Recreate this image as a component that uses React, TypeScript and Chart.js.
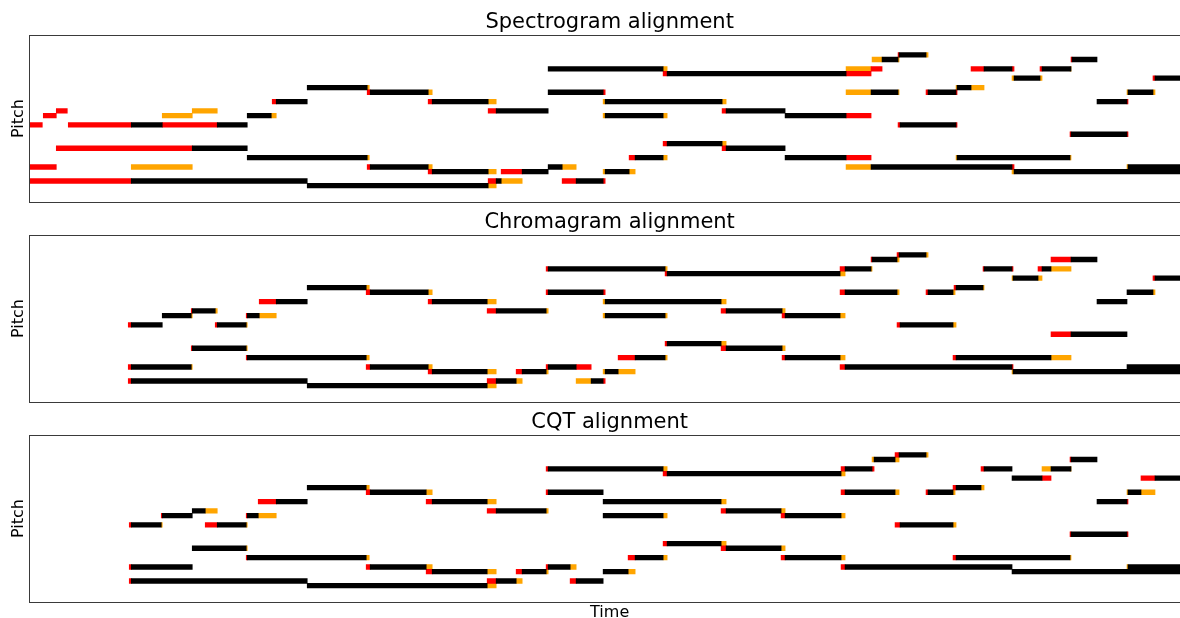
import React, { useEffect, useRef } from 'react';
import { Chart, registerables } from 'chart.js';

Chart.register(...registerables);

// Each note segment: [start time, end time, pitch row]
type Seg = [number, number, number];

const PANEL_TITLES = ['Spectrogram alignment', 'Chromagram alignment', 'CQT alignment'];
const Y_LABEL = 'Pitch';
const X_LABEL = 'Time';
const TIME_MIN = 0;
const TIME_MAX = 116.1;
const PITCH_MIN = -3.35;
const PITCH_MAX = 32.1;

// ---------- Spectrogram alignment ----------
const specBlack: Seg[] = [
  [27.8, 33.8, 21], [24.7, 27.8, 18], [21.8, 24.2, 15], [10.2, 13.3, 13], [18.8, 21.8, 13],
  [16.3, 21.8, 8], [21.8, 33.8, 6], [10.2, 27.8, 1], [27.8, 45.9, 0],
  [34.1, 39.9, 20], [51.9, 57.4, 20], [84.2, 86.9, 20], [89.9, 92.7, 20], [109.9, 112.4, 20],
  [40.3, 45.9, 18], [57.6, 69.3, 18], [106.8, 109.8, 18],
  [46.7, 51.9, 16], [69.7, 75.6, 16],
  [34.1, 39.9, 4], [51.9, 53.3, 4], [84.2, 98.3, 4], [109.9, 116.1, 4],
  [40.3, 45.9, 3], [49.3, 51.9, 3], [57.6, 60.0, 3], [98.5, 116.1, 3],
  [46.7, 47.2, 1], [54.7, 57.4, 1],
  [51.9, 63.4, 25], [95.5, 98.3, 25], [101.3, 104.2, 25],
  [57.6, 63.4, 15], [75.6, 81.7, 15],
  [63.8, 81.7, 24], [63.8, 69.3, 9], [69.7, 75.6, 8],
  [60.6, 63.4, 6], [75.6, 81.7, 6], [92.8, 104.1, 6],
  [85.3, 86.9, 27], [104.3, 106.8, 27], [87.0, 89.7, 28],
  [98.5, 101.1, 23], [112.6, 116.1, 23], [92.8, 94.2, 21], [87.1, 92.7, 13], [104.2, 109.8, 11],
];
const specRed: Seg[] = [
  [24.3, 24.7, 18], [2.7, 3.8, 16], [1.4, 2.7, 15], [0, 1.3, 13], [3.9, 10.2, 13], [13.3, 18.8, 13],
  [2.7, 16.3, 8], [0, 2.7, 4], [0, 10.2, 1],
  [33.8, 34.1, 20], [57.4, 57.6, 20], [89.7, 89.9, 20], [92.7, 92.8, 20],
  [39.9, 40.3, 18], [109.8, 109.9, 18], [45.9, 46.7, 16], [69.3, 69.7, 16],
  [33.8, 34.1, 4], [98.3, 98.5, 4], [39.9, 40.3, 3], [47.2, 49.3, 3],
  [45.9, 46.7, 1], [53.3, 54.7, 1], [57.4, 57.6, 1],
  [63.4, 63.8, 24], [81.7, 84.2, 24],
  [84.2, 85.3, 25], [94.2, 95.5, 25], [98.3, 98.5, 25], [101.1, 101.3, 25],
  [81.7, 84.2, 15], [63.4, 63.8, 9], [69.3, 69.7, 8], [60.0, 60.6, 6], [81.7, 84.2, 6],
  [86.9, 87.0, 28], [86.9, 87.1, 13], [92.7, 92.8, 13], [104.2, 104.3, 27], [112.4, 112.6, 23],
  [104.1, 104.2, 11], [109.8, 109.9, 11],
];
const specOrange: Seg[] = [
  [33.8, 34.0, 21], [16.3, 18.8, 16], [13.3, 16.3, 15], [24.2, 24.7, 15], [33.8, 34.0, 6],
  [10.2, 16.3, 4], [45.9, 46.7, 0],
  [39.9, 40.3, 20], [81.7, 84.2, 20], [86.9, 87.0, 20], [109.8, 109.9, 20], [112.4, 112.6, 20],
  [45.9, 46.7, 18], [57.4, 57.6, 18], [69.3, 69.7, 18],
  [39.9, 40.3, 4], [53.3, 54.7, 4], [81.7, 84.2, 4], [109.8, 109.9, 4],
  [45.9, 46.7, 3], [57.4, 57.6, 3], [60.0, 60.6, 3], [98.3, 98.5, 3],
  [47.2, 49.3, 1],
  [63.4, 63.8, 25], [81.7, 84.2, 25], [104.1, 104.2, 25],
  [57.4, 57.6, 15], [63.4, 63.8, 15], [69.3, 69.7, 9],
  [63.4, 63.8, 6], [92.7, 92.8, 6], [104.1, 104.2, 6],
  [84.3, 85.3, 27], [86.9, 87.0, 27], [89.7, 89.9, 28],
  [92.7, 92.8, 21], [94.2, 95.5, 21], [98.3, 98.5, 23], [101.1, 101.3, 23],
];

// ---------- Chromagram alignment ----------
const chromaBlack: Seg[] = [
  [27.8, 33.7, 21], [92.7, 95.4, 21],
  [24.7, 27.8, 18], [40.3, 45.8, 18], [57.6, 69.2, 18], [106.8, 109.8, 18],
  [16.3, 18.6, 16], [46.7, 51.7, 16], [69.7, 75.3, 16],
  [13.3, 16.2, 15], [21.8, 23.0, 15], [57.6, 63.6, 15], [75.6, 81.1, 15],
  [10.2, 13.3, 13], [18.8, 21.7, 13], [87.1, 92.4, 13],
  [16.3, 21.7, 8], [69.7, 75.3, 8],
  [21.8, 33.7, 6], [60.6, 63.6, 6], [75.6, 81.1, 6], [92.7, 102.2, 6],
  [10.2, 16.2, 4], [34.1, 39.9, 4], [51.9, 54.7, 4], [81.6, 98.3, 4], [109.8, 116.1, 4],
  [40.3, 45.8, 3], [49.3, 51.7, 3], [57.6, 58.9, 3], [98.4, 116.1, 3],
  [10.2, 27.8, 1], [46.7, 48.7, 1], [56.2, 57.4, 1],
  [27.8, 45.8, 0],
  [51.9, 63.6, 25], [81.6, 84.2, 25], [95.5, 98.3, 25], [101.3, 102.2, 25],
  [34.1, 39.9, 20], [51.9, 57.4, 20], [81.6, 86.8, 20], [89.9, 92.4, 20], [109.8, 112.4, 20],
  [63.8, 81.1, 24], [63.8, 69.2, 9],
  [84.3, 86.8, 27], [104.2, 106.8, 27], [87.0, 89.7, 28],
  [98.4, 100.9, 23], [112.6, 116.1, 23], [104.2, 109.8, 11],
];
const chromaRed: Seg[] = [
  [23.0, 24.7, 18], [39.9, 40.3, 18],
  [16.2, 16.3, 16], [45.8, 46.7, 16], [69.2, 69.7, 16],
  [21.7, 21.8, 15], [75.3, 75.6, 15],
  [9.9, 10.2, 13], [18.6, 18.8, 13], [86.8, 87.1, 13],
  [16.2, 16.3, 8], [69.2, 69.7, 8],
  [21.7, 21.8, 6], [58.9, 60.6, 6], [75.3, 75.6, 6], [92.4, 92.7, 6],
  [9.9, 10.2, 4], [33.7, 34.1, 4], [51.7, 51.9, 4], [54.7, 56.2, 4], [81.1, 81.6, 4], [98.3, 98.4, 4],
  [39.9, 40.3, 3], [48.7, 49.3, 3],
  [9.9, 10.2, 1], [45.8, 46.7, 1], [57.4, 57.6, 1],
  [51.7, 51.9, 25], [81.1, 81.6, 25], [95.4, 95.5, 25], [98.3, 98.4, 25], [100.9, 101.3, 25],
  [33.7, 34.1, 20], [51.7, 51.9, 20], [57.4, 57.6, 20], [81.1, 81.6, 20], [89.7, 89.9, 20],
  [63.6, 63.8, 24], [63.6, 63.8, 9],
  [84.2, 84.3, 27], [102.2, 104.2, 27], [86.8, 87.0, 28], [92.5, 92.7, 21],
  [112.4, 112.6, 23], [102.2, 104.2, 11],
];
const chromaOrange: Seg[] = [
  [18.6, 18.8, 16], [51.7, 51.9, 16], [75.3, 75.6, 16],
  [16.2, 16.3, 15], [23.0, 24.7, 15], [57.4, 57.6, 15], [63.6, 63.8, 15], [81.1, 81.6, 15],
  [21.7, 21.8, 13], [92.4, 92.7, 13],
  [21.7, 21.8, 8], [75.3, 75.6, 8],
  [16.2, 16.3, 4], [39.9, 40.3, 4],
  [33.7, 34.0, 21], [95.4, 95.5, 21],
  [33.7, 34.0, 6], [63.6, 63.8, 6], [81.1, 81.6, 6], [102.2, 104.2, 6],
  [39.9, 40.3, 20], [86.8, 87.0, 20], [92.4, 92.6, 20], [112.4, 112.6, 20],
  [45.8, 46.7, 18], [57.4, 57.6, 18], [69.2, 69.7, 18],
  [45.8, 46.7, 3], [51.7, 51.9, 3], [57.4, 57.6, 3], [58.9, 60.6, 3], [98.3, 98.4, 3],
  [48.7, 49.3, 1], [54.7, 56.2, 1], [45.8, 46.7, 0],
  [63.6, 63.8, 25], [84.2, 84.3, 25], [102.2, 104.2, 25],
  [81.1, 81.6, 24], [69.2, 69.7, 9], [86.8, 87.0, 27], [89.7, 89.9, 28],
  [98.3, 98.4, 23], [100.9, 101.3, 23],
];

// ---------- CQT alignment ----------
const cqtBlack: Seg[] = [
  [27.8, 33.7, 21], [92.7, 95.2, 21],
  [24.7, 27.8, 18], [40.3, 45.8, 18], [57.4, 69.2, 18], [106.8, 109.8, 18],
  [16.3, 17.6, 16], [46.7, 51.7, 16], [69.7, 75.2, 16],
  [13.3, 16.3, 15], [21.8, 22.9, 15], [57.4, 63.4, 15], [75.6, 81.2, 15],
  [10.2, 13.2, 13], [18.8, 21.7, 13], [87.1, 92.4, 13],
  [16.3, 21.7, 8], [69.7, 75.2, 8],
  [21.8, 33.7, 6], [60.6, 63.4, 6], [75.6, 81.2, 6], [92.7, 104.1, 6],
  [10.2, 16.3, 4], [34.1, 39.7, 4], [51.9, 54.1, 4], [81.6, 98.3, 4], [109.9, 116.1, 4],
  [40.3, 45.8, 3], [49.3, 51.7, 3], [57.4, 59.9, 3], [98.3, 116.1, 3],
  [10.2, 27.8, 1], [46.7, 48.7, 1], [54.7, 57.4, 1],
  [27.8, 45.8, 0],
  [51.9, 63.4, 25], [81.6, 84.3, 25], [95.5, 98.3, 25], [102.2, 104.2, 25],
  [34.1, 39.7, 20], [51.9, 57.4, 20], [81.6, 86.6, 20], [89.9, 92.4, 20], [109.9, 111.2, 20],
  [63.8, 81.2, 24], [63.8, 69.2, 9],
  [84.5, 86.6, 27], [104.2, 106.8, 27], [87.0, 89.7, 28],
  [98.3, 101.3, 23], [112.6, 116.1, 23], [104.2, 109.8, 11],
];
const cqtRed: Seg[] = [
  [22.9, 24.7, 18], [39.7, 40.3, 18], [109.8, 109.9, 18],
  [13.2, 13.3, 15], [21.7, 21.8, 15], [75.2, 75.6, 15],
  [10.0, 10.2, 13], [17.6, 18.8, 13], [86.6, 87.1, 13],
  [21.7, 21.8, 6], [59.9, 60.6, 6], [75.2, 75.6, 6], [92.4, 92.7, 6],
  [10.0, 10.2, 4], [33.7, 34.1, 4], [51.7, 51.9, 4], [81.2, 81.6, 4],
  [39.7, 40.3, 3], [48.7, 49.3, 3],
  [10.0, 10.2, 1], [45.8, 46.7, 1], [54.1, 54.7, 1],
  [45.8, 46.7, 16], [69.2, 69.7, 16], [69.2, 69.7, 8],
  [51.7, 51.9, 25], [81.2, 81.6, 25], [84.3, 84.5, 25], [95.2, 95.5, 25],
  [33.7, 34.1, 20], [51.7, 51.9, 20], [81.2, 81.6, 20], [89.7, 89.9, 20],
  [63.4, 63.8, 24], [63.4, 63.8, 9], [86.6, 87.0, 28], [104.1, 104.2, 27],
  [101.3, 102.2, 23], [111.2, 112.6, 23], [92.4, 92.7, 21],
  [104.1, 104.2, 11], [109.8, 109.9, 11],
];
const cqtOrange: Seg[] = [
  [17.6, 18.8, 16], [51.7, 51.9, 16], [75.2, 75.6, 16],
  [22.9, 24.7, 15], [63.4, 63.8, 15], [81.2, 81.6, 15],
  [13.2, 13.3, 13], [21.7, 21.8, 13], [92.4, 92.7, 13],
  [21.7, 21.8, 8], [75.2, 75.6, 8],
  [33.7, 34.0, 21], [95.2, 95.5, 21],
  [33.7, 34.0, 6], [63.4, 63.8, 6], [81.2, 81.6, 6], [104.1, 104.2, 6],
  [39.7, 40.3, 20], [86.6, 87.0, 20], [92.4, 92.6, 20], [109.8, 109.9, 20], [111.2, 112.6, 20],
  [39.7, 40.3, 4], [54.1, 54.7, 4], [109.8, 109.9, 4],
  [45.8, 46.7, 18], [69.2, 69.7, 18],
  [45.8, 46.7, 3], [51.7, 51.9, 3], [59.9, 60.6, 3],
  [48.7, 49.3, 1], [45.8, 46.7, 0],
  [63.4, 63.8, 25], [101.3, 102.2, 25], [104.1, 104.2, 25],
  [81.2, 81.6, 24], [69.2, 69.7, 9], [84.3, 84.5, 27], [86.6, 87.0, 27], [89.7, 89.9, 28],
];

const COLORS = { black: '#000000', red: '#ff0000', orange: '#ffa500' };

const PANELS = [
  { title: PANEL_TITLES[0], black: specBlack, red: specRed, orange: specOrange },
  { title: PANEL_TITLES[1], black: chromaBlack, red: chromaRed, orange: chromaOrange },
  { title: PANEL_TITLES[2], black: cqtBlack, red: cqtRed, orange: cqtOrange },
];

const FONT = "'DejaVu Sans', 'Liberation Sans', sans-serif";
const CANVAS_W = 1200;
const CANVAS_H = 218;

function toBars(segs: Seg[]) {
  return segs.map(([s, e, p]) => ({ x: [s, e], y: p }));
}

function Panel(props: { title: string; black: Seg[]; red: Seg[]; orange: Seg[]; showX: boolean; top: number }) {
  const ref = useRef<HTMLCanvasElement | null>(null);
  useEffect(() => {
    if (!ref.current) return;
    const { title, showX } = props;
    const decor = {
      id: 'decor',
      afterDraw(chart: any) {
        const { ctx, chartArea: a } = chart;
        ctx.save();
        ctx.strokeStyle = '#3a3a3a';
        ctx.lineWidth = 1;
        ctx.strokeRect(Math.round(a.left) + 0.5, Math.round(a.top) - 0.5, a.right - a.left, Math.round(a.bottom - a.top) + 1);
        ctx.fillStyle = '#000';
        ctx.textAlign = 'center';
        ctx.textBaseline = 'alphabetic';
        ctx.font = `21px ${FONT}`;
        const cx = (a.left + a.right) / 2;
        ctx.fillText(title, cx, 28);
        ctx.font = `16px ${FONT}`;
        if (showX) ctx.fillText(X_LABEL, cx, 217);
        ctx.translate(23, (a.top + a.bottom) / 2);
        ctx.rotate(-Math.PI / 2);
        ctx.fillText(Y_LABEL, 0, 0);
        ctx.restore();
      },
    };
    const mk = (segs: Seg[], color: string) => ({
      data: toBars(segs) as any,
      backgroundColor: color,
      borderWidth: 0,
      grouped: false,
      barThickness: 4.66,
    });
    const chart = new Chart(ref.current, {
      type: 'bar',
      data: {
        datasets: [
          mk(props.black, COLORS.black),
          mk(props.red, COLORS.red),
          mk(props.orange, COLORS.orange),
        ] as any,
      },
      options: {
        indexAxis: 'y',
        animation: false,
        responsive: false,
        devicePixelRatio: 1,
        layout: { padding: { left: 29.3, right: CANVAS_W - 1190, top: 35.7, bottom: CANVAS_H - 201.3 } },
        plugins: { legend: { display: false }, tooltip: { enabled: false }, title: { display: false } },
        scales: {
          x: { type: 'linear', min: TIME_MIN, max: TIME_MAX, display: false, offset: false },
          y: { type: 'linear', min: PITCH_MIN, max: PITCH_MAX, display: false, offset: false },
        },
      } as any,
      plugins: [decor],
    });
    return () => chart.destroy();
  }, []);
  return (
    <canvas
      ref={ref}
      width={CANVAS_W}
      height={CANVAS_H}
      style={{ position: 'absolute', left: 0, top: props.top, width: CANVAS_W, height: CANVAS_H }}
    />
  );
}

export default function App() {
  useEffect(() => {
    document.body.style.margin = '0';
    document.body.style.overflow = 'hidden';
    document.body.style.background = '#ffffff';
  }, []);
  return (
    <div style={{ position: 'relative', width: 1180, height: 618, overflow: 'hidden', background: '#fff' }}>
      {PANELS.map((p, i) => (
        <Panel key={i} title={p.title} black={p.black} red={p.red} orange={p.orange} showX={i === 2} top={i * 200} />
      ))}
    </div>
  );
}
